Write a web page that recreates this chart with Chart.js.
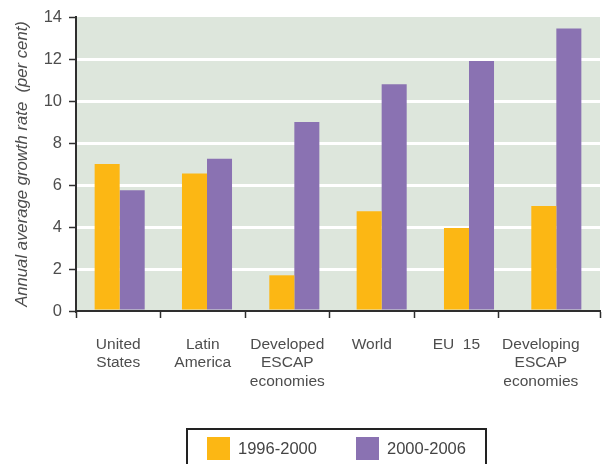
<!DOCTYPE html>
<html>
<head>
<meta charset="utf-8">
<script src="https://cdn.jsdelivr.net/npm/chart.js@4/dist/chart.umd.min.js"></script>
<style>
  html, body { margin: 0; padding: 0; background: #fff; }
  #wrap { position: relative; width: 602px; height: 464px; overflow: hidden; }
  #chart { position: absolute; left: 0; top: 0; }
  #legend {
    position: absolute; left: 186px; top: 428px; width: 297px; height: 60px;
    border: 2px solid #222; box-sizing: content-box;
    font-family: "Liberation Sans", Arial, sans-serif; font-size: 16.5px; color: #444;
  }
  .item { position: absolute; top: 7px; display: flex; align-items: center; }
  .swatch { width: 23px; height: 23px; margin-right: 8px; }
</style>
</head>
<body>
<div id="wrap">
  <canvas id="chart" width="602" height="464"></canvas>
  <div id="legend"></div>
</div>
<script>
// Regions shown along the horizontal axis (one entry per line of the label)
const categories = [
  ['United', 'States'],
  ['Latin', 'America'],
  ['Developed', 'ESCAP', 'economies'],
  ['World'],
  ['EU  15'],
  ['Developing', 'ESCAP', 'economies']
];
// Annual average growth rate, per cent
const growth1996to2000 = [7.0, 6.55, 1.7, 4.75, 3.95, 5.0];
const growth2000to2006 = [5.75, 7.25, 9.0, 10.8, 11.9, 13.45];
const seriesNames = ['1996-2000', '2000-2006'];
const yTicks = [0, 2, 4, 6, 8, 10, 12, 14];

// The printed category ruler is a little narrower than the plot panel
const RULER_SPAN = 6.2;

const FONT = '"Liberation Sans", Arial, sans-serif';
const INK = '#4d4d4d';
const AXIS = '#2e2e2e';

const panelFill = {
  id: 'panelFill',
  beforeDraw(chart) {
    const a = chart.chartArea, c = chart.ctx;
    c.save();
    c.fillStyle = '#dde6dc';
    c.fillRect(a.left, a.top, a.right - a.left, a.bottom - a.top);
    c.restore();
  }
};

const chart = new Chart(document.getElementById('chart'), {
  type: 'bar',
  data: {
    labels: categories.map(c => c.join(' ')),
    datasets: [
      { label: seriesNames[0], data: growth1996to2000, backgroundColor: '#fcb714', xAxisID: 'x', yAxisID: 'y' },
      { label: seriesNames[1], data: growth2000to2006, backgroundColor: '#8a72b2', xAxisID: 'x', yAxisID: 'y' }
    ]
  },
  options: {
    responsive: false,
    animation: false,
    layout: { padding: { top: 17, right: 2, bottom: 0, left: 0 } },
    datasets: { bar: { categoryPercentage: 0.573, barPercentage: 1.0 } },
    plugins: { legend: { display: false }, tooltip: { enabled: false } },
    scales: {
      x: { type: 'category', display: false, offset: true },
      // tick ruler along the bottom edge
      xt: {
        type: 'linear', position: 'bottom', min: 0, max: RULER_SPAN, offset: false,
        afterBuildTicks(s) { s.ticks = [0, 1, 2, 3, 4, 5, RULER_SPAN].map(v => ({ value: v })); },
        afterFit(s) { s.height = 7; },
        ticks: { display: false },
        grid: { offset: false, drawOnChartArea: false, drawTicks: true, tickLength: 7, tickColor: AXIS, tickWidth: 1.5 },
        border: { display: true, color: AXIS, width: 2 }
      },
      // category names, centred between ruler ticks
      xl: {
        type: 'linear', position: 'bottom', min: 0, max: RULER_SPAN, offset: false,
        afterBuildTicks(s) { s.ticks = categories.map((c, i) => ({ value: i + 0.5 })); },
        afterFit(s) { s.height = 146; },
        grid: { display: false, offset: false },
        border: { display: false },
        ticks: {
          autoSkip: false, maxRotation: 0, minRotation: 0, padding: 9,
          color: INK, font: { family: FONT, size: 15.5, lineHeight: 1.2 },
          callback: (v, i) => categories[i]
        }
      },
      y: {
        min: 0, max: 14,
        afterBuildTicks(s) { s.ticks = yTicks.map(v => ({ value: v })); },
        afterFit(s) { s.width = 76; },
        grid: {
          color: ctx => (ctx.tick && (ctx.tick.value === 0 || ctx.tick.value === 14)) ? 'rgba(0,0,0,0)' : '#ffffff',
          lineWidth: 3, tickColor: AXIS, tickWidth: 1.5, tickLength: 7
        },
        border: { display: true, color: AXIS, width: 2 },
        ticks: { color: INK, padding: 7, font: { family: FONT, size: 16.5 } },
        title: {
          display: true, text: 'Annual average growth rate  (per cent)',
          color: INK, font: { family: FONT, size: 16.7, style: 'italic' },
          padding: { top: 12, bottom: 0 }
        }
      }
    }
  },
  plugins: [panelFill]
});

// Legend built from the chart's own dataset entries
const legendEl = document.getElementById('legend');
const itemX = [19, 168];
chart.options.plugins.legend.labels.generateLabels(chart).forEach((item, i) => {
  const div = document.createElement('div');
  div.className = 'item';
  div.style.left = itemX[i] + 'px';
  const sw = document.createElement('span');
  sw.className = 'swatch';
  sw.style.background = item.fillStyle;
  const txt = document.createElement('span');
  txt.textContent = item.text;
  div.appendChild(sw);
  div.appendChild(txt);
  legendEl.appendChild(div);
});
</script>
</body>
</html>
